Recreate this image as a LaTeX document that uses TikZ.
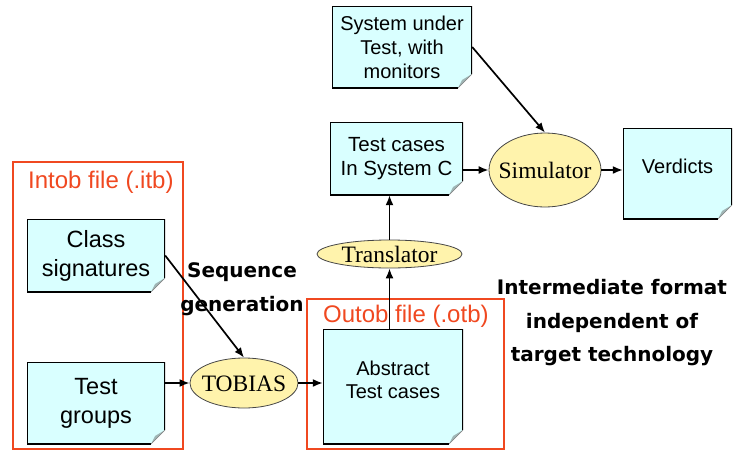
\documentclass[tikz,border=0pt]{standalone}
\usepackage{fontspec}
\usepackage{tikz}
\usetikzlibrary{positioning,arrows.meta,shapes.geometric,calc}
\usepackage{xcolor}
\newfontfamily\notefont{Liberation Sans}
\newfontfamily\ovalfont{Liberation Serif}
\newfontfamily\handfont{DejaVu Sans}
\definecolor{notecyan}{RGB}{217,255,255}
\definecolor{foldgray}{RGB}{160,182,182}
\definecolor{ovalyellow}{RGB}{255,243,172}
\definecolor{ovalline}{RGB}{70,70,70}
\definecolor{filered}{RGB}{240,72,32}

\begin{document}
\begin{tikzpicture}[>={Latex[length=10pt,width=8pt]}, x=1pt, y=-1pt,
    note/.style={rectangle, fill=notecyan, inner sep=0pt, align=center,
        font=\notefont\fontsize{20.5}{24.5}\selectfont,
        path picture={
            \coordinate (pse) at (path picture bounding box.south east);
            \fill[white] ($(pse)+(0pt,14pt)$) -- (pse) -- ($(pse)+(-14pt,0pt)$) -- cycle;
            \fill[foldgray] ($(pse)+(0pt,14pt)$) -- ($(pse)+(-14pt,0pt)$) -- ($(pse)+(-10pt,8pt)$) -- cycle;
            \draw[line width=1.8pt] ($(pse)+(-14pt,0pt)$) -- (path picture bounding box.south west)
                -- (path picture bounding box.north west) -- (path picture bounding box.north east)
                -- ($(pse)+(0pt,14pt)$);
            \draw[line width=0.6pt, gray] ($(pse)+(0pt,14pt)$) -- ($(pse)+(-14pt,0pt)$);}},
    bignote/.style={note, font=\notefont\fontsize{23.5}{29}\selectfont},
    oval/.style={ellipse, draw=ovalline, line width=0.8pt, fill=ovalyellow,
        inner xsep=-4pt, inner ysep=0pt, text height=16pt, text depth=0pt,
        font=\ovalfont\fontsize{23.5}{28}\selectfont},
    flow/.style={->, line width=1.7pt},
    filebox/.style={draw=filered, line width=2pt},
    filelabel/.style={text=filered, inner sep=0pt, font=\notefont\fontsize{24}{28}\selectfont},
    hand/.style={align=center, inner sep=0pt, font=\handfont\bfseries\fontsize{20}{33.5}\selectfont}]
    \useasboundingbox (0,0) rectangle (733,450);

    % File frames
    \draw[filebox] (13,162) rectangle (183,449);
    \draw[filebox] (307,299) rectangle (504,449);
    \node[filelabel, anchor=base west] (intoblbl) at (28,188) {Intob file (.itb)};
    \node[filelabel, anchor=base west] (outoblbl) at (323,322) {Outob file (.otb)};

    % Input notes
    \node[bignote, minimum width=138pt, minimum height=73pt] (clssig) at (96,255.5) {Class\\signatures};
    \node[bignote, minimum width=138pt, minimum height=82pt] (tstgrp) at (96,403) {Test\\groups};

    % Other notes
    \node[note, minimum width=140pt, minimum height=115pt, text depth=13pt, font=\notefont\fontsize{20}{23}\selectfont] (abstc) at (393,386.5) {Abstract\\Test cases};
    \node[note, minimum width=133pt, minimum height=73pt] (tcsysc) at (396.5,158.5) {Test cases\\In System C};
    \node[note, minimum width=140pt, minimum height=82pt, font=\notefont\fontsize{20}{24}\selectfont] (sut) at (402,47) {System under\\Test, with\\monitors};
    \node[note, minimum width=109pt, minimum height=91pt, text depth=14pt, font=\notefont\fontsize{20}{24}\selectfont] (verd) at (677.5,173.5) {Verdicts};

    % Tools
    \node[oval, minimum width=108pt, minimum height=50pt] (tobias) at (244,383) {TOBIAS};
    \node[oval, minimum width=145pt, minimum height=28pt] (transl) at (389.5,254) {Translator};
    \node[oval, inner xsep=-7pt, minimum width=112pt, minimum height=74pt] (simul) at (545,170) {Simulator};

    % Hand written remarks
    \node[hand] (seqgen) at (242,289) {Sequence\\generation};
    \node[hand] (interm) at (612,323) {Intermediate format\\independent of\\target technology};

    % Flow
    \draw[flow] (clssig.east) -- (tobias.north);
    \draw[flow] (tstgrp.east |- tobias.west) -- (tobias.west);
    \draw[flow] (tobias.east) -- (tobias.east -| abstc.west);
    \draw[flow] (transl.south |- abstc.north) -- (transl.south);
    \draw[flow] (transl.north) -- (transl.north |- tcsysc.south);
    \draw[flow] (tcsysc.east |- simul.west) -- (simul.west);
    \draw[flow] (sut.east) -- (simul.north);
    \draw[flow] (simul.east) -- (simul.east -| verd.west);
\end{tikzpicture}
\end{document}
